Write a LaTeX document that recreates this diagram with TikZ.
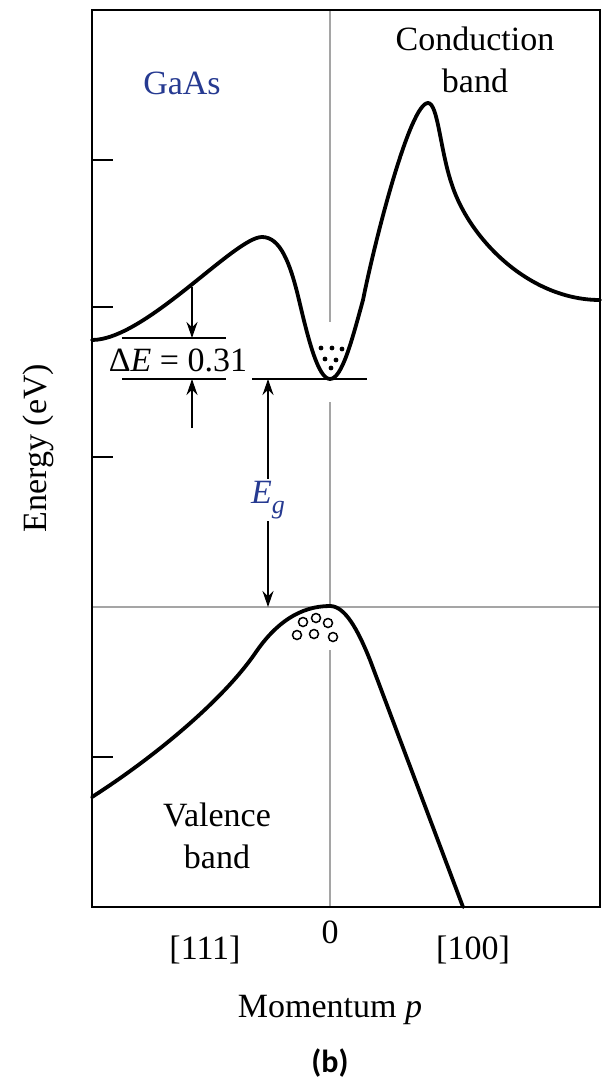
\documentclass[tikz,border=0pt]{standalone}
\usepackage{fontspec}
\setmainfont{Liberation Serif}
\newfontfamily\capfont{Carlito}
\usetikzlibrary{arrows.meta, positioning}
\definecolor{labelblue}{RGB}{38,58,145}
\definecolor{axisgray}{RGB}{165,165,165}
\tikzset{
  band/.style={line width=3.8pt, line join=round, line cap=round},
  guide/.style={axisgray, line width=1.4pt},
  level/.style={line width=1.8pt},
  dimarrow/.style={line width=1.9pt, -{Stealth[length=16pt, width=11pt]}},
  lbl/.style={font=\fontsize{34}{42}\selectfont, inner sep=2pt, align=center},
}

\begin{document}
\begin{tikzpicture}[x=1pt, y=-1pt]
    \useasboundingbox (0,0) rectangle (604,1084);

    % Guide lines through p = 0 and the valence band edge
    \draw[guide] (330,10) -- (330,322);
    \draw[guide] (330,402) -- (330,607);
    \draw[guide] (330,650) -- (330,907);
    \draw[guide] (92,607) -- (600,607);

    % Frame and ticks
    \draw[line width=2pt] (92,10) rectangle (600,907);
    \foreach \ty in {160,307,457,757} {
        \draw[line width=2pt] (92,\ty) -- (113,\ty);
    }

    % Conduction band
    \draw[band] (92,340) .. controls (145,340) and (235,237) .. (262,237)
        .. controls (280,237) and (290,262) .. (299,300)
        .. controls (308,338) and (318,379) .. (330,379)
        .. controls (342,379) and (352,340) .. (363,300)
        .. controls (375,240) and (410,103) .. (428,103)
        .. controls (438,103) and (440,150) .. (452,185)
        .. controls (470,240) and (530,300) .. (600,300);

    % Valence band
    \draw[band] (92,797) .. controls (150,760) and (222,702) .. (256,652)
        .. controls (276,623) and (300,606) .. (330,606)
        .. controls (345,606) and (358,630) .. (370,660)
        -- (463,907);

    % Electrons and holes
    \foreach \ex/\ey in {321/348, 332/348, 342/349, 325/359, 336/360, 331/368} {
        \fill (\ex,\ey) circle (2.4);
    }
    \foreach \hx/\hy in {303/622, 316/618, 328/623, 297/635, 314/634, 333/637} {
        \draw[line width=1.5pt] (\hx,\hy) circle (4.5);
    }

    % Energy levels
    \coordinate (detopL) at (122,338);
    \coordinate (detopR) at (226,338);
    \coordinate (debotL) at (122,379);
    \coordinate (debotR) at (226,379);
    \coordinate (cbL) at (252,379);
    \coordinate (cbR) at (367,379);
    \draw[level] (detopL) -- (detopR);
    \draw[level] (debotL) -- (debotR);
    \draw[level] (cbL) -- (cbR);

    % Labels
    \node[lbl] (de) at (178,360) {Δ\textit{E} = 0.31};
    \node[lbl, text=labelblue] (eg) at (268,500) {\textit{E}\raisebox{-10pt}{\fontsize{26}{28}\selectfont\textit{g}}};
    \node[lbl, text=labelblue] (gaas) at (182,83) {GaAs};
    \node[lbl] (cband) at (475,60) {Conduction\\band};
    \node[lbl] (vband) at (217,836) {Valence\\band};
    \node[lbl, rotate=90] (energy) at (38,448) {Energy (eV)};
    \node[lbl] (zero) at (330,932) {0};
    \node[lbl] (k111) at (205,950) {[111]};
    \node[lbl] (k100) at (473,950) {[100]};
    \node[lbl] (mom) at (330,1010) {Momentum \textit{p}};
    \node[font=\capfont\bfseries\fontsize{32}{36}\selectfont] (panel) at (330,1063) {(b)};

    % Arrows
    \coordinate (deup) at (192,287);
    \coordinate (dedown) at (192,428);
    \coordinate (detip) at (192,338);
    \coordinate (debtip) at (192,379);
    \coordinate (egtop) at (268,379);
    \coordinate (egbot) at (268,607);
    \draw[dimarrow] (deup) -- (detip);
    \draw[dimarrow] (dedown) -- (debtip);
    \draw[dimarrow] (eg.north) -- (egtop);
    \draw[dimarrow] (eg.south) -- (egbot);

\end{tikzpicture}
\end{document}
